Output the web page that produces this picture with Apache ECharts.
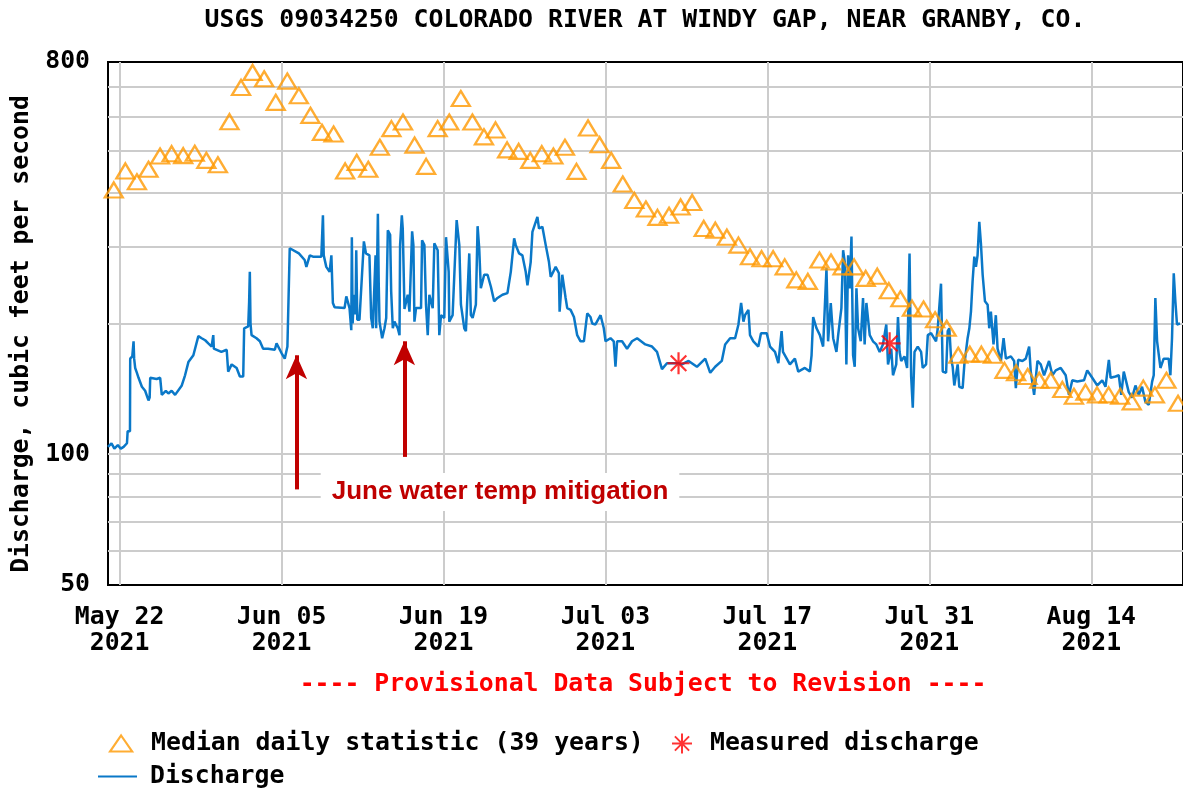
<!DOCTYPE html>
<html><head><meta charset="utf-8">
<script src="https://cdn.jsdelivr.net/npm/echarts@6/dist/echarts.min.js"></script>
<style>html,body{margin:0;padding:0;background:#fff}#chart{width:1183px;height:791px}</style>
</head><body><div id="chart"></div>
<script>
// ---------------- data ----------------
const chartTitle = 'USGS 09034250 COLORADO RIVER AT WINDY GAP, NEAR GRANBY, CO.';
const yAxisTitle = 'Discharge, cubic feet per second';
const provisionalNote = '---- Provisional Data Subject to Revision ----';
const annotationText = 'June water temp mitigation';
const seriesNames = ['Median daily statistic (39 years)', 'Measured discharge', 'Discharge'];
const startDate = [2021, 5, 21];          // day 0 of the period (local time)
const endDay = 92.93;                      // right edge of the plotted window, in days
const xTickDates = [[2021,5,22],[2021,6,5],[2021,6,19],[2021,7,3],[2021,7,17],[2021,7,31],[2021,8,14]];
const monthNames = ['Jan','Feb','Mar','Apr','May','Jun','Jul','Aug','Sep','Oct','Nov','Dec'];
const yLabelValues = [50, 100, 800];
const yGridValues = [60, 70, 80, 90, 100, 200, 300, 400, 500, 600, 700];
const yMin = 50, yMax = 800;

// median daily statistic, one per day starting May 21 (plotted at noon)
const medianCfs = [406,449,424,453,486,492,487,493,475,464,
  583,699,757,732,646,723,669,603,551,546,
  449,470,453,509,562,582,515,460,562,582,
  659,582,538,558,502,498,475,492,486,509,
  448,564,516,475,419,384,367,351,355,371,
  380,331,328,316,303,285,282,282,270,252,
  250,280,277,270,270,254,257,238,228,217,
  216,204,195,169,170,170,169,156,154,151,
  148,148,141,136,139,137,137,136,132,142,
  137,148,131];

// measured discharge: [days since start, cfs]
const measuredObs = [[49.32,162],[67.57,180]];

// discharge trace: [days since start, cfs]
const dischargeObs = [
[0.00,104],[0.30,106],[0.55,103],[0.85,105],[1.10,103],[1.35,104],[1.64,106],[1.70,113],[1.90,113],[1.92,166],[2.10,168],[2.21,182],[2.26,166],[2.35,158],[2.50,154],[2.64,150],[2.93,143],[3.21,140],[3.50,133],[3.60,135],[3.65,150],[3.79,150],[4.20,149],[4.51,150],[4.65,137],[5.00,140],[5.22,138],[5.50,140],[5.80,137],[5.95,138],[6.38,144],[6.66,152],[6.95,163],[7.38,169],[7.81,187],[8.10,185],[8.40,183],[8.67,180],[8.96,177],[9.10,188],[9.15,175],[9.25,174],[9.80,172],[10.26,174],[10.39,155],[10.69,161],[11.12,158],[11.40,151],[11.69,151],[11.77,195],[12.12,197],[12.20,224],[12.26,263],[12.32,200],[12.41,188],[12.84,185],[13.13,182],[13.41,175],[13.84,175],[14.42,174],[14.57,180],[15.00,171],[15.28,166],[15.51,177],[15.60,177],[15.71,298],[15.86,296],[16.50,290],[17.00,280],[17.15,270],[17.44,287],[17.72,285],[18.44,285],[18.58,355],[18.65,287],[18.87,270],[19.16,263],[19.31,287],[19.44,223],[19.59,218],[20.45,217],[20.60,231],[20.88,217],[21.03,193],[21.08,316],[21.15,200],[21.25,233],[21.40,210],[21.46,295],[21.55,204],[21.74,204],[21.89,202],[22.12,309],[22.30,290],[22.60,287],[22.75,206],[22.89,195],
[23.13,287],[23.18,195],[23.33,358],[23.40,250],[23.47,202],[23.70,185],[23.90,195],[24.05,206],[24.19,328],[24.39,320],[24.48,237],[24.62,195],[24.76,202],[25.05,195],[25.20,188],[25.25,303],[25.40,355],[25.48,331],[25.63,216],[25.77,215],[25.91,233],[26.06,213],[26.29,326],[26.40,303],[26.49,202],[26.63,217],[27.06,217],[27.15,311],[27.35,303],[27.49,221],[27.64,188],[27.78,233],[28.07,217],[28.21,306],[28.50,295],[28.64,188],[28.79,209],[29.07,206],[29.22,316],[29.45,263],[29.50,202],[29.79,209],[30.14,346],[30.37,303],[30.51,221],[30.80,195],[30.94,192],[31.23,290],[31.37,209],[31.52,206],[31.80,221],[31.95,335],[32.09,298],[32.23,241],[32.52,259],[32.81,259],[33.10,243],[33.38,225],[33.67,229],[34.10,233],[34.53,235],[34.82,263],[35.11,314],[35.25,303],[35.54,290],[35.82,287],[36.11,263],[36.26,245],[36.54,277],[36.69,325],[37.12,352],[37.26,331],[37.55,334],[37.84,303],[38.12,277],[38.27,256],[38.70,270],[38.98,261],[39.04,213],[39.27,259],[39.56,229],[39.70,217],[39.99,215],[40.28,207],[40.56,188],[40.85,182],[41.14,182],[41.43,211],[41.71,207],[41.86,200],[42.14,199],[42.58,209],[42.86,195],[43.01,182],[43.44,185],[43.72,182],[43.87,159],[44.01,182],[44.44,182],[44.87,175],[45.30,182],[45.74,185],
[46.45,179],[47.03,177],[47.46,172],[47.89,157],[48.32,162],[49.33,162],[49.61,161],[50.19,164],[50.91,159],[51.63,166],[52.06,154],[52.49,159],[53.06,164],[53.35,179],[53.78,185],[54.21,185],[54.50,199],[54.73,223],[54.93,202],[55.07,209],[55.36,215],[55.50,188],[55.79,182],[56.22,177],[56.45,190],[56.94,190],[57.23,177],[57.66,172],[57.95,162],[58.23,192],[58.35,172],[58.52,171],[58.95,161],[59.38,166],[59.67,155],[60.24,158],[60.67,155],[60.82,169],[60.96,207],[61.25,195],[61.54,188],[61.82,177],[62.11,268],[62.25,182],[62.48,223],[62.69,185],[62.97,172],[63.12,188],[63.26,202],[63.40,217],[63.55,295],[63.69,277],[63.83,161],[63.98,287],[64.12,241],[64.27,317],[64.41,169],[64.55,159],[64.70,241],[64.84,195],[65.07,182],[65.27,229],[65.41,179],[65.56,223],[65.85,188],[66.13,182],[66.42,179],[66.71,172],[66.99,179],[67.28,199],[67.43,161],[67.71,175],[67.86,152],[68.00,151],[68.14,161],[68.29,207],[68.43,172],
[68.57,164],[68.85,168],[69.08,158],[69.29,290],[69.43,151],[69.57,128],[69.72,172],[70.00,177],[70.29,172],[70.43,158],[70.72,161],[70.87,188],[71.15,190],[71.58,182],[71.73,195],[72.01,247],[72.16,155],[72.45,154],[72.59,192],[72.73,195],[72.88,166],[73.02,159],[73.16,144],[73.45,161],[73.59,143],[73.88,142],[74.03,161],[74.31,185],[74.46,195],[74.60,213],[74.74,250],[74.89,285],[75.03,270],[75.17,287],[75.32,343],[75.46,306],[75.61,259],[75.81,225],[76.04,221],[76.18,195],[76.32,213],[76.55,179],[76.75,209],[76.90,175],[77.19,164],[77.42,185],[77.62,166],[78.05,168],[78.33,164],[78.48,142],[78.68,165],[79.05,164],[79.34,166],[79.63,177],[79.77,155],[80.06,137],[80.35,164],[80.63,161],[80.92,152],[81.35,164],[81.64,152],[81.93,156],[82.36,158],[82.79,152],[83.07,137],[83.36,148],[83.79,147],[84.37,148],[84.65,156],[84.94,152],[85.52,144],[85.95,148],[86.23,143],[86.52,165],[86.67,150],[87.10,151],[87.38,152],[87.59,137],[87.81,155],[87.96,156],[88.24,139],[88.53,135],[88.82,144],[89.11,137],[89.39,143],[89.68,132],[89.97,130],[90.26,147],[90.40,152],[90.54,229],[90.69,182],[90.98,158],[91.26,166],[91.69,166],[91.84,152],[91.98,185],[92.13,261],[92.27,225],[92.41,199],[92.67,200]
];

// annotation arrows: [days since start, tail cfs, head cfs]
const arrowMarks = [[16.29, 83, 169], [25.62, 98.6, 182]];

// ---------------- chart ----------------
const DAY = 86400000;
const t0 = new Date(startDate[0], startDate[1]-1, startDate[2]).getTime();
const dayOf = a => Math.round((new Date(a[0], a[1]-1, a[2]).getTime() - t0) / DAY);
const xTicks = xTickDates.map(dayOf);
const MONO = "'DejaVu Sans Mono', monospace";
const FS = 24.8;
const txt = (color) => ({fontFamily: MONO, fontWeight: 'bold', fontSize: FS, color: color || '#000'});
const asteriskPath = 'path://M9,0h2v20h-2z M0,9h20v2h-20z M2.2,3.6l1.4,-1.4l14.2,14.2l-1.4,1.4z M16.4,2.2l1.4,1.4l-14.2,14.2l-1.4,-1.4z';
const BLUE = '#0a78c8', ORANGE = '#ff9900';

const chart = echarts.init(document.getElementById('chart'), null, {renderer: 'canvas'});
chart.setOption({
  animation: false,
  backgroundColor: '#fff',
  title: [
    {text: chartTitle, left: 645, textAlign: 'center', top: 8, padding: 0, textStyle: txt('#000')},
    {text: provisionalNote, left: 643, textAlign: 'center', top: 672, padding: 0, textStyle: txt('#ff0000')}
  ],
  legend: [
    {left: 109, top: 731, padding: 0, itemWidth: 22, itemHeight: 16, selectedMode: false,
     textStyle: Object.assign(txt(), {padding: [0,0,0,14]}),
     data: [{name: seriesNames[0], icon: 'triangle', itemStyle: {color: 'rgba(0,0,0,0)', borderColor: ORANGE, borderWidth: 2.2}}]},
    {left: 672, top: 731, padding: 0, itemWidth: 20, itemHeight: 20, selectedMode: false,
     textStyle: Object.assign(txt(), {padding: [0,0,0,13]}),
     data: [{name: seriesNames[1], icon: asteriskPath, itemStyle: {color: '#ff0000'}}]},
    {left: 98, top: 764, padding: 0, itemWidth: 39, itemHeight: 2, selectedMode: false,
     textStyle: Object.assign(txt(), {padding: [0,0,0,8]}),
     data: [{name: seriesNames[2], icon: 'path://M0,0h40v2h-40z', itemStyle: {color: BLUE}}]}
  ],
  grid: {left: 108, top: 62, width: 1078, height: 523, show: true, borderColor: '#000', borderWidth: 2},
  xAxis: {
    type: 'value', min: 0, max: endDay,
    axisLine: {show: false},
    axisTick: {show: false, customValues: xTicks},
    axisLabel: {customValues: xTicks, margin: 20, lineHeight: 26, fontFamily: MONO, fontWeight: 'bold', fontSize: FS, color: '#000',
      formatter: v => { const d = new Date(t0 + v * DAY); return monthNames[d.getMonth()] + ' ' + String(d.getDate()).padStart(2,'0') + '\n' + d.getFullYear(); }},
    splitLine: {show: true, lineStyle: {color: '#cccccc', width: 2}}
  },
  yAxis: {
    type: 'log', logBase: 10, min: yMin, max: yMax,
    axisLine: {show: false},
    axisTick: {show: false, customValues: yGridValues},
    axisLabel: {customValues: yLabelValues, margin: 18, padding: [6,0,0,0], fontFamily: MONO, fontWeight: 'bold', fontSize: FS, color: '#000'},
    splitLine: {show: true, lineStyle: {color: '#cccccc', width: 2}}
  },
  graphic: [
    {type: 'text', x: 22, y: 334, rotation: Math.PI/2, z: 100,
     style: {text: yAxisTitle, font: "bold 24.8px 'DejaVu Sans Mono'", fill: '#000', align: 'center', verticalAlign: 'middle'}},
    {type: 'text', x: 500, y: 492, z: 100,
     style: {text: annotationText, font: "bold 26px 'Liberation Sans'", fill: '#c00000', align: 'center', verticalAlign: 'middle',
             backgroundColor: '#ffffff', padding: [6, 11]}}
  ],
  series: [
    {name: seriesNames[2], type: 'line', z: 2, showSymbol: false, symbol: 'none', silent: true,
     lineStyle: {color: BLUE, width: 2.5},
     data: dischargeObs,
     markLine: {silent: true, symbol: ['none', 'arrow'], symbolSize: [16, 24], label: {show: false},
       lineStyle: {color: '#c00000', width: 4, type: 'solid'}, emphasis: {disabled: true},
       data: arrowMarks.map(a => [{coord: [a[0], a[1]]}, {coord: [a[0], a[2]]}])}},
    {name: seriesNames[0], type: 'scatter', z: 3, silent: true, symbol: 'triangle', symbolSize: [18, 15],
     itemStyle: {color: 'rgba(0,0,0,0)', borderColor: ORANGE, borderWidth: 2.3},
     data: medianCfs.map((v, i) => [i + 0.5, v])},
    {name: seriesNames[1], type: 'scatter', z: 4, silent: true, symbol: asteriskPath, symbolSize: 22,
     itemStyle: {color: '#ff0000'},
     data: measuredObs}
  ]
});
</script></body></html>
